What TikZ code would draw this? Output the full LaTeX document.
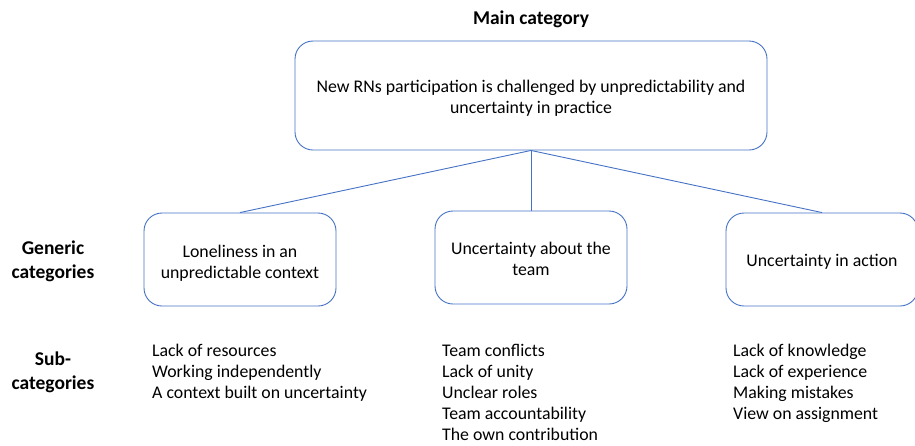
\documentclass[tikz,border=0pt]{standalone}
\usepackage{fontspec}
\setmainfont{Carlito}
\begin{document}
\begin{tikzpicture}[x=1pt,y=-1pt,
  catbox/.style={draw=boxblue, line width=0.9pt, rounded corners=18pt, inner sep=0pt},
  link/.style={draw=boxblue, line width=0.9pt},
  boxtext/.style={align=center, font=\fontsize{17.8}{21}\selectfont},
  heading/.style={align=center, font=\fontsize{19.5}{24.5}\selectfont\bfseries},
  itemlist/.style={align=left, anchor=north west, inner sep=0pt, font=\fontsize{17.8}{21}\selectfont}]
\definecolor{boxblue}{HTML}{4472C4}
\useasboundingbox (0,0) rectangle (915,445);
\clip (0,0) rectangle (915,445);

% main category
\node[heading] (maintitle) at (531,19) {Main category};
\node[catbox, minimum width=472pt, minimum height=109pt] (main) at (531,95.5) {};
\node[boxtext] (maintext) at (531,98.5) {New RNs participation is challenged by unpredictability and\\uncertainty in practice};

% generic categories
\node[catbox, minimum width=192pt, minimum height=93pt] (g1) at (240,259.5) {};
\node[catbox, minimum width=192pt, minimum height=93pt] (g2) at (531,257.5) {};
\node[catbox, minimum width=192pt, minimum height=93pt] (g3) at (822,259.5) {};
\node[boxtext] (g1text) at (240,263) {Loneliness in an\\unpredictable context};
\node[boxtext] (g2text) at (531,258.5) {Uncertainty about the\\team};
\node[boxtext] (g3text) at (822,262) {Uncertainty in action};

\draw[link] (main.south) -- (g1.north);
\draw[link] (main.south) -- (g2.north);
\draw[link] (main.south) -- (g3.north);

% row labels
\node[heading] (genlabel) at (53,261.5) {Generic\\categories};
\node[heading] (sublabel) at (53,372.5) {Sub-\\categories};

% sub-categories
\node[itemlist] (s1) at (152,344) {Lack of resources\\Working independently\\A context built on uncertainty};
\node[itemlist] (s2) at (442,344) {Team conflicts\\Lack of unity\\Unclear roles\\Team accountability\\The own contribution};
\node[itemlist] (s3) at (733,344) {Lack of knowledge\\Lack of experience\\Making mistakes\\View on assignment};
\end{tikzpicture}
\end{document}
